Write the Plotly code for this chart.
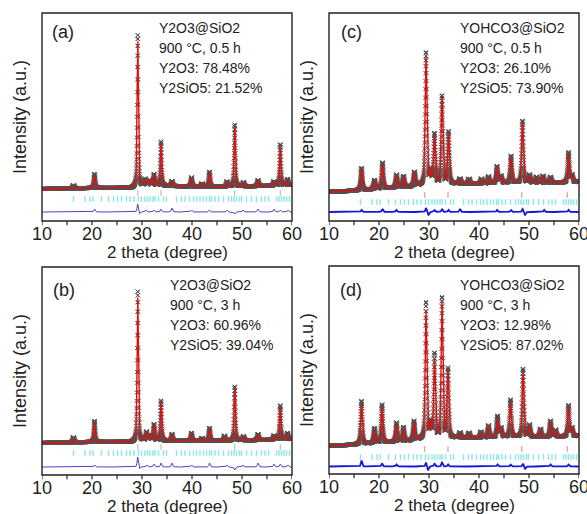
import numpy as np
import plotly.graph_objects as go

# ---------------- data ----------------
x_ticks = [10, 20, 30, 40, 50, 60]
x_minor_ticks = [15, 25, 35, 45, 55]

# Bragg reflection positions (2 theta)
y2o3_refl = [29.15, 33.8, 48.55, 57.65]
y2sio5_refl = [16.3, 18.6, 19.6, 20.2, 21.9, 23.3, 24.3, 25.1, 25.9, 26.9, 27.6, 28.4,
               29.3, 29.9, 30.6, 31.1, 31.6, 32.2, 32.6, 33.3, 34.3, 34.9, 36.9, 37.9,
               38.6, 39.5, 40.3, 40.9, 41.6, 42.3, 42.9, 43.5, 43.9, 44.6, 45.3, 46.3,
               47.3, 47.9, 48.4, 48.9, 49.5, 49.9, 50.9, 51.9, 52.9, 53.9, 54.6, 55.3,
               56.9, 57.4, 57.9, 58.4, 58.9, 59.5]

# (a) Y2O3@SiO2, 900 C, 0.5 h
a_peak_pos = [16.3, 20.5, 29.15, 30.6, 31.5, 32.4, 33.8, 36.0, 39.9, 42.0, 43.5, 47.0, 48.55, 50.3, 53.2, 56.4, 57.65, 59.1]
a_calc_h   = [2, 12, 146, 5, 5, 10, 42, 5, 8, 3, 14, 4, 60, 4, 5, 4, 39, 5]
a_obs_h    = [3, 14, 152, 6, 5, 11, 44, 5, 9, 3, 15, 5, 62, 4, 6, 4, 41, 6]
a_bg_x = [10, 20, 28, 31, 35, 45, 55, 60]
a_bg_y = [32, 33, 33, 36, 35, 34, 35, 36]
a_diff_pos = [20.5, 29.15, 29.5, 30.8, 32.4, 33.8, 36.0, 39.9, 43.5, 47.0, 48.55, 50.2, 53.2, 56.4, 57.65, 59.2]
a_diff_amp = [3, 8, -2, 2, 2, 3, 4, 2, 2, 2, -2, 2, 3, 3, 2, 2]

# (b) Y2O3@SiO2, 900 C, 3 h
b_peak_pos = [16.3, 20.5, 29.15, 30.9, 31.6, 32.4, 33.8, 36.0, 39.9, 42.0, 43.5, 46.5, 48.55, 50.3, 53.2, 56.4, 57.65, 59.1]
b_calc_h   = [4, 19, 144, 7, 5, 15, 38, 6, 7, 3, 12, 4, 52, 4, 5, 4, 32, 5]
b_obs_h    = [5, 21, 150, 8, 5, 16, 40, 7, 8, 3, 13, 5, 54, 4, 6, 4, 34, 6]
b_bg_x = [10, 20, 28, 31, 35, 45, 55, 60]
b_bg_y = [32, 33, 33, 35, 34, 34, 35, 36]
b_diff_pos = [20.5, 29.15, 29.5, 31.0, 32.4, 33.8, 36.0, 39.9, 43.5, 47.0, 48.55, 50.2, 53.2, 56.4, 57.65, 59.2]
b_diff_amp = [2, 10, -2, 2, 3, 4, 4, 2, 4, 2, -3, 2, 4, 3, 3, 2]

# (c) YOHCO3@SiO2, 900 C, 0.5 h
c_peak_pos = [16.5, 19.1, 20.7, 23.5, 24.9, 27.1, 29.4, 30.3, 31.1, 32.6, 33.9, 36.2, 38.0, 40.5, 41.9, 43.6, 44.4, 46.4, 48.7, 50.1, 51.5, 52.8, 54.3, 57.9, 58.6]
c_calc_h   = [21, 8, 24, 12, 10, 13, 128, 12, 48, 86, 50, 4, 4, 4, 6, 16, 6, 25, 60, 7, 5, 6, 5, 28, 6]
c_obs_h    = [22, 9, 26, 13, 11, 14, 132, 13, 50, 88, 52, 5, 5, 5, 7, 17, 7, 27, 62, 8, 6, 7, 6, 30, 7]
c_bg_x = [10, 14, 20, 26, 29, 35, 40, 45, 50, 55, 60]
c_bg_y = [29, 30, 32, 34, 36, 37, 37, 38, 38, 38, 39]
c_diff_pos = [16.5, 20.7, 23.5, 29.4, 29.9, 31.1, 32.6, 33.9, 36.2, 43.6, 46.4, 48.7, 49.2, 53.0, 57.9]
c_diff_amp = [2, 3, 2, 4, -3, 2, 3, 2, 3, 2, 2, 3, -3, 2, 2]

# (d) YOHCO3@SiO2, 900 C, 3 h
d_peak_pos = [16.5, 19.1, 20.6, 23.5, 24.9, 27.0, 29.4, 30.3, 31.1, 32.6, 33.8, 36.2, 38.0, 40.4, 41.9, 43.7, 44.4, 46.3, 48.8, 50.1, 52.3, 54.3, 55.3, 57.9, 58.6]
d_calc_h   = [40, 13, 35, 17, 12, 17, 128, 14, 78, 136, 66, 4, 4, 5, 11, 18, 8, 34, 64, 11, 7, 14, 6, 29, 7]
d_obs_h    = [43, 15, 38, 19, 14, 19, 136, 15, 84, 140, 69, 5, 5, 6, 12, 21, 9, 37, 68, 12, 8, 16, 7, 31, 8]
d_bg_x = [10, 14, 20, 26, 29, 35, 40, 45, 50, 55, 60]
d_bg_y = [28, 29, 31, 33, 35, 36, 36, 37, 37, 37, 38]
d_diff_pos = [16.5, 20.6, 23.5, 29.4, 29.8, 31.1, 32.6, 33.8, 43.7, 46.3, 48.8, 49.2, 54.3, 57.9]
d_diff_amp = [6, 3, 2, 4, -4, 3, 4, 2, 2, 2, 3, -3, 2, 2]

labels = ["(a)", "(b)", "(c)", "(d)"]
info = [
    ["Y2O3@SiO2", "900 °C, 0.5 h", "Y2O3: 78.48%", "Y2SiO5: 21.52%"],
    ["Y2O3@SiO2", "900 °C, 3 h", "Y2O3: 60.96%", "Y2SiO5: 39.04%"],
    ["YOHCO3@SiO2", "900 °C, 0.5 h", "Y2O3: 26.10%", "Y2SiO5: 73.90%"],
    ["YOHCO3@SiO2", "900 °C, 3 h", "Y2O3: 12.98%", "Y2SiO5: 87.02%"],
]

# ---------------- construction ----------------
W, H = 587, 514

def pv(x, pos, hts, fwhm, eta=0.35):
    y = np.zeros_like(x)
    for p, h in zip(pos, hts):
        u = (x - p) / fwhm
        y += h * (eta / (1 + 4 * u * u) + (1 - eta) * np.exp(-4 * np.log(2) * u * u))
    return y

panels = [
    dict(pos=a_peak_pos, calc=a_calc_h, obs=a_obs_h, bgx=a_bg_x, bgy=a_bg_y, dpos=a_diff_pos, damp=a_diff_amp,
         fwhm=0.32, dlev=9, ytick1=28, ytick2=22, px=(42, 292), py=(13, 221), tickcol="#b8a8a8",
         dcol="#4444cc", dw=1.0, lab=(21, 19), txt=(115, 15)),
    dict(pos=b_peak_pos, calc=b_calc_h, obs=b_obs_h, bgx=b_bg_x, bgy=b_bg_y, dpos=b_diff_pos, damp=b_diff_amp,
         fwhm=0.32, dlev=8, ytick1=28, ytick2=22, px=(42, 292), py=(267, 475), tickcol="#b8a8a8",
         dcol="#4444cc", dw=1.0, lab=(22, 23), txt=(126, 18)),
    dict(pos=c_peak_pos, calc=c_calc_h, obs=c_obs_h, bgx=c_bg_x, bgy=c_bg_y, dpos=c_diff_pos, damp=c_diff_amp,
         fwhm=0.42, dlev=9, ytick1=26, ytick2=19, px=(329, 579), py=(13, 221), tickcol="#e08080",
         dcol="#1515dd", dw=1.8, lab=(22, 19), txt=(129, 15)),
    dict(pos=d_peak_pos, calc=d_calc_h, obs=d_obs_h, bgx=d_bg_x, bgy=d_bg_y, dpos=d_diff_pos, damp=d_diff_amp,
         fwhm=0.40, dlev=7.5, ytick1=25, ytick2=17, px=(329, 579), py=(266, 474), tickcol="#e08080",
         dcol="#1515dd", dw=1.8, lab=(22, 24), txt=(129, 19)),
]

xs_line = np.linspace(10, 60, 2501)
xs_obs = np.linspace(10, 60, 2501)

fig = go.Figure()
layout = {}
shapes = []
for i, P in enumerate(panels):
    k = "" if i == 0 else str(i + 1)
    xa, ya = "x" + k, "y" + k
    bg_l = np.interp(xs_line, P["bgx"], P["bgy"])
    bg_o = np.interp(xs_obs, P["bgx"], P["bgy"])
    calc = bg_l + pv(xs_line, P["pos"], P["calc"], P["fwhm"])
    obs = bg_o + pv(xs_obs, P["pos"], P["obs"], P["fwhm"])
    diff = P["dlev"] + pv(xs_line, P["dpos"], P["damp"], 0.3)

    fig.add_trace(go.Scatter(x=xs_obs, y=obs, mode="markers", xaxis=xa, yaxis=ya,
                             marker=dict(symbol="x-thin-open", size=4, color="#505050",
                                         line=dict(width=1, color="#505050")),
                             showlegend=False, hoverinfo="skip"))
    fig.add_trace(go.Scatter(x=xs_line, y=calc, mode="lines", xaxis=xa, yaxis=ya,
                             line=dict(color="#e01010", width=1.4), showlegend=False, hoverinfo="skip"))
    fig.add_trace(go.Scatter(x=y2o3_refl, y=[P["ytick1"]] * len(y2o3_refl), mode="markers", xaxis=xa, yaxis=ya,
                             marker=dict(symbol="line-ns-open", size=4, color=P["tickcol"],
                                         line=dict(width=1, color=P["tickcol"])),
                             showlegend=False, hoverinfo="skip"))
    fig.add_trace(go.Scatter(x=y2sio5_refl, y=[P["ytick2"]] * len(y2sio5_refl), mode="markers", xaxis=xa, yaxis=ya,
                             marker=dict(symbol="line-ns-open", size=4, color="#90e6e6",
                                         line=dict(width=1.5, color="#90e6e6")),
                             showlegend=False, hoverinfo="skip"))
    fig.add_trace(go.Scatter(x=xs_line, y=diff, mode="lines", xaxis=xa, yaxis=ya,
                             line=dict(color=P["dcol"], width=P["dw"]), showlegend=False, hoverinfo="skip"))

    x0, x1 = P["px"]
    y0, y1 = P["py"]
    layout["xaxis" + k] = dict(domain=[x0 / W, x1 / W], anchor=ya, range=[10, 60], automargin=False,
                               tickmode="array", tickvals=x_ticks, ticks="", showline=False,
                               ticklabeloverflow="allow",
                               showgrid=False, zeroline=False, fixedrange=True,
                               tickfont=dict(size=18, color="#222", family="Liberation Sans, Arial"))
    layout["yaxis" + k] = dict(domain=[1 - y1 / H, 1 - y0 / H], anchor=xa, range=[0, 208], automargin=False,
                               showticklabels=False, ticks="", showline=False, fixedrange=True,
                               showgrid=False, zeroline=False)
    # frame
    shapes.append(dict(type="rect", xref=xa + " domain", yref=ya + " domain", x0=0, x1=1, y0=0, y1=1,
                       line=dict(color="#222", width=1.4), layer="above"))
    # bottom ticks (major + minor)
    for t in x_ticks + x_minor_ticks:
        shapes.append(dict(type="line", xref=xa, yref=ya + " domain", x0=t, x1=t, y0=0, y1=-0.02,
                           line=dict(color="#222", width=1.2), layer="above"))

annotations = []
font_t = dict(family="Liberation Sans, Arial", size=14, color="#222")
font_big = dict(family="Liberation Sans, Arial", size=18, color="#222")
for i, P in enumerate(panels):
    x0, x1 = P["px"]
    y0, y1 = P["py"]
    lx, ly = P["lab"]
    tx, ty = P["txt"]
    annotations.append(dict(text=labels[i], xref="paper", yref="paper", x=(x0 + lx) / W, y=1 - (y0 + ly) / H,
                            xanchor="center", yanchor="middle", showarrow=False, font=font_big))
    for j, line in enumerate(info[i]):
        annotations.append(dict(text=line, xref="paper", yref="paper", x=(x0 + tx) / W,
                                y=1 - (y0 + ty + 20 * j) / H, xanchor="left", yanchor="middle",
                                showarrow=False, font=font_t))
    annotations.append(dict(text="2 theta (degree)", xref="paper", yref="paper", x=(x0 + x1) / 2 / W,
                            y=1 - (y1 + 31) / H, xanchor="center", yanchor="middle", showarrow=False,
                            font=dict(family="Liberation Sans, Arial", size=17, color="#222")))
    annotations.append(dict(text="Intensity (a.u.)", xref="paper", yref="paper", x=(x0 - 22) / W,
                            y=1 - (y0 + y1) / 2 / H, xanchor="center", yanchor="middle", textangle=-90,
                            showarrow=False, font=font_big))

fig.update_layout(width=W, height=H, margin=dict(l=0, r=0, t=0, b=0, autoexpand=False),
                  paper_bgcolor="white", plot_bgcolor="white", annotations=annotations, shapes=shapes,
                  **layout)
fig.write_html("out.html", config={"displayModeBar": False},
               post_script="document.body.style.margin='0';document.body.style.padding='0';")
